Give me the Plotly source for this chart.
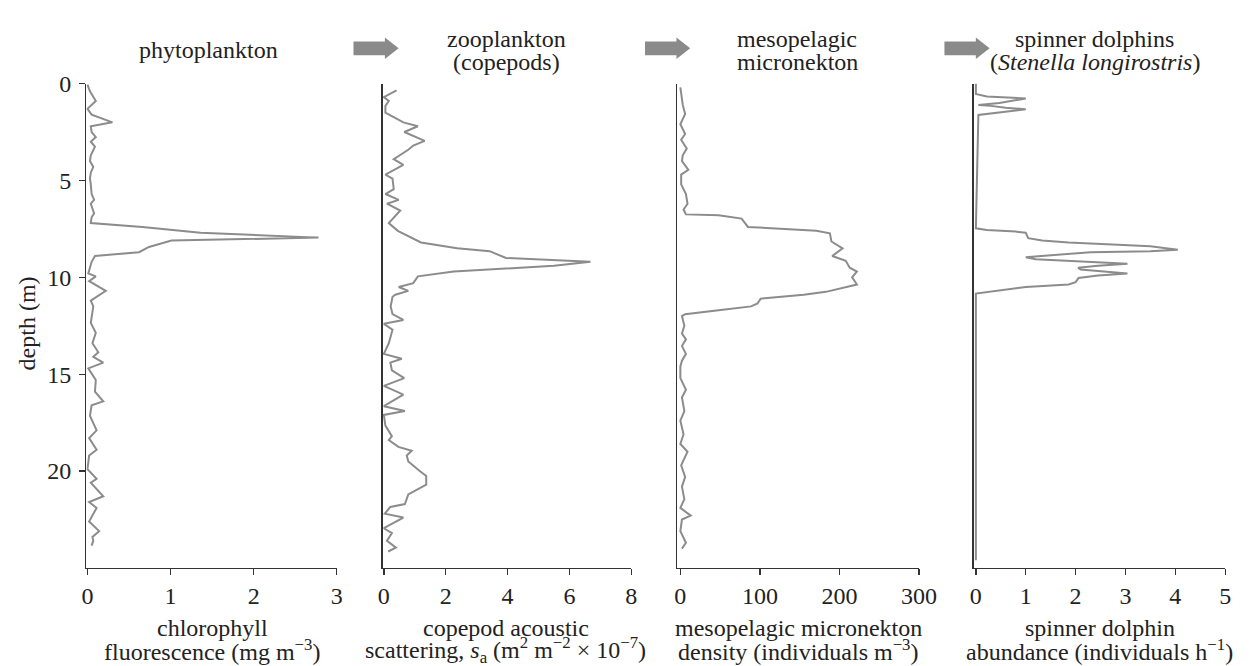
import plotly.graph_objects as go

# ---------------- data ----------------
depth_phyto = [0.05, 0.4, 0.9, 1.3, 1.6, 2.0, 2.2, 2.5, 2.76, 3.0, 3.25, 3.7, 4.0, 4.3, 4.6,
               4.9, 5.2, 5.7, 6.0, 6.2, 6.7, 6.9, 7.2, 7.4, 7.7, 7.95, 8.1, 8.43, 8.7, 8.9,
               9.2, 9.5, 9.8, 9.95, 10.2, 10.7, 11.2, 11.5, 11.85, 12.35, 12.86, 13.4, 13.87, 14.1, 14.4,
               14.7, 15.3, 15.9, 16.4, 16.6, 17.15, 17.9, 18.3, 18.9, 19.2, 19.9, 20.4, 20.6, 21.3, 21.6,
               21.9, 22.6, 23.1, 23.4, 23.6, 23.85]
chlorophyll = [0.0, 0.03, 0.1, 0.0, 0.05, 0.3, 0.04, 0.05, 0.1, 0.04, 0.09, 0.04, 0.03, 0.07, 0.04,
               0.03, 0.04, 0.05, 0.08, 0.04, 0.08, 0.05, 0.04, 0.66, 1.36, 2.78, 1.01, 0.74, 0.62, 0.09,
               0.05, 0.03, 0.01, 0.1, 0.02, 0.22, 0.04, 0.07, 0.06, 0.04, 0.1, 0.06, 0.13, 0.07, 0.19,
               0.01, 0.1, 0.09, 0.19, 0.05, 0.03, 0.11, 0.02, 0.11, 0.02, 0.0, 0.11, 0.04, 0.19, 0.02,
               0.11, 0.02, 0.14, 0.06, 0.07, 0.05]

depth_cop = [0.35, 0.5, 0.7, 0.9, 1.15, 1.5, 2.0, 2.2, 2.5, 2.96, 3.2, 3.4, 3.9, 4.2, 4.5,
             4.7, 4.9, 5.45, 5.7, 6.0, 6.2, 6.55, 7.2, 7.6, 8.2, 8.5, 8.65, 9.0, 9.2, 9.4,
             9.7, 9.95, 10.3, 10.5, 10.7, 10.9, 11.0, 11.5, 11.9, 12.2, 12.4, 12.7, 13.4, 13.95, 14.2,
             14.4, 14.8, 15.2, 15.6, 16.05, 16.65, 16.9, 17.1, 17.65, 18.2, 18.4, 18.75, 18.95, 19.2, 19.5,
             20.0, 20.25, 20.7, 21.2, 21.7, 21.85, 22.2, 22.4, 22.95, 23.2, 23.6, 23.95, 24.15]
copepods = [0.41, 0.22, 0.0, 0.16, 0.05, 0.05, 0.63, 1.1, 0.66, 1.32, 0.95, 0.8, 0.32, 0.63, 0.28,
            0.05, 0.28, 0.32, 0.05, 0.48, 0.1, 0.53, 0.16, 0.45, 1.2, 2.37, 3.42, 3.95, 6.68, 5.5,
            2.26, 1.1, 0.95, 0.48, 0.79, 0.37, 0.28, 0.22, 0.28, 0.63, 0.0, 0.28, 0.16, 0.0, 0.58,
            0.21, 0.26, 0.66, 0.0, 0.63, 0.0, 0.68, 0.0, 0.05, 0.26, 0.16, 0.47, 0.9, 0.74, 0.79,
            1.16, 1.37, 1.37, 0.79, 0.68, 0.21, 0.03, 0.63, 0.0, 0.26, 0.1, 0.39, 0.14]

depth_mic = [0.2, 0.7, 1.1, 1.57, 2.1, 2.6, 2.9, 3.35, 3.7, 4.0, 4.45, 4.7, 5.2, 5.7, 6.2,
             6.5, 6.75, 6.8, 6.97, 7.4, 7.5, 7.6, 7.73, 8.15, 8.5, 8.9, 9.15, 9.5, 9.7, 10.0,
             10.37, 10.5, 10.75, 10.9, 11.1, 11.35, 11.5, 11.7, 11.9, 12.0, 12.5, 12.9, 13.2, 13.55, 13.95,
             14.3, 14.6, 15.2, 15.8, 16.2, 16.9, 17.4, 18.1, 18.6, 19.0, 19.7, 20.3, 20.8, 21.45, 21.9,
             22.3, 22.5, 23.1, 23.7, 24.0]
micronekton = [0, 2, 3, 6, 0, 6, 1, 8, 3, 2, 10, 1, 1, 7, 9,
               4, 7, 48, 77, 85, 130, 171, 188, 190, 204, 191, 208, 213, 222, 216,
               222, 208, 183, 155, 101, 97, 89, 48, 6, 2, 5, 2, 7, 2, 7,
               2, 0, 0, 7, 2, 5, 0, 4, 0, 9, 1, 6, 2, 5, 0,
               13, 2, 0, 7, 2]

depth_dol = [0.0, 0.54, 0.66, 0.72, 0.77, 1.0, 1.1, 1.15, 1.25, 1.33, 1.5, 1.62, 7.47, 7.56, 7.64,
             7.7, 7.98, 8.1, 8.2, 8.25, 8.4, 8.57, 8.65, 8.7, 8.82, 8.96, 9.07, 9.16, 9.24, 9.3,
             9.4, 9.5, 9.6, 9.7, 9.8, 9.9, 10.03, 10.25, 10.37, 10.5, 10.84, 24.6]
dolphins = [0, 0, 0.22, 0.61, 1.0, 0.47, 0.05, 0.3, 0.6, 1.0, 0.5, 0.05, 0, 0.22, 0.8,
            1.0, 1.05, 1.33, 1.86, 2.3, 3.5, 4.05, 3.5, 2.3, 1.66, 1.0, 1.2, 2.0, 2.84, 3.04,
            2.45, 2.05, 2.1, 2.57, 3.04, 2.45, 2.06, 2.0, 1.86, 1.0, 0.0, 0]

depth_ticks = [0, 5, 10, 15, 20]
x_ticks = [[0, 1, 2, 3], [0, 2, 4, 6, 8], [0, 100, 200, 300], [0, 1, 2, 3, 4, 5]]
x_ranges = [[-0.012, 3.0], [-0.03, 8.0], [-3.7, 300], [-0.04, 5.0]]

top_titles = [["phytoplankton"], ["zooplankton", "(copepods)"],
              ["mesopelagic", "micronekton"], ["spinner dolphins", "(<i>Stenella longirostris</i>)"]]
bottom_titles = [["chlorophyll", "fluorescence (mg m<sup>−3</sup>)"],
                 ["copepod acoustic", "scattering, <i>s</i><sub>a</sub> (m<sup>2</sup> m<sup>−2</sup> × 10<sup>−7</sup>)"],
                 ["mesopelagic micronekton", "density (individuals m<sup>−3</sup>)"],
                 ["spinner dolphin", "abundance (individuals h<sup>−1</sup>)"]]

# ---------------- layout geometry (window pixels) ----------------
W, H = 1253, 666
FONT = "Times New Roman, Liberation Serif, DejaVu Serif, serif"
LINE = "#8c8c8c"
AX = "#333333"
TXT = "#222222"
TSIZE = 24
KSIZE = 24

def px(x):
    return x / W

def py(y):
    return 1 - y / H

panel_px = [(83, 338), (385, 638), (685, 931), (987, 1243)]
top_y, bot_y = 72, 566

series = [(chlorophyll, depth_phyto), (copepods, depth_cop), (micronekton, depth_mic), (dolphins, depth_dol)]

fig = go.Figure()
layout = dict(
    width=W, height=H, margin=dict(l=0, r=0, t=0, b=0),
    paper_bgcolor="white", plot_bgcolor="white", showlegend=False,
    font=dict(family=FONT, size=TSIZE, color=TXT),
)

for i, ((xv, yv), (x0, x1)) in enumerate(zip(series, panel_px)):
    n = "" if i == 0 else str(i + 1)
    fig.add_trace(go.Scatter(x=xv, y=yv, mode="lines", line=dict(color=LINE, width=2),
                             xaxis="x" + n, yaxis="y" + n, hoverinfo="skip"))
    layout["xaxis" + n] = dict(
        domain=[px(x0), px(x1)], anchor="y" + n, range=x_ranges[i],
        tickvals=x_ticks[i], ticks="outside", ticklen=6, tickwidth=1.3, tickcolor=AX,
        showline=True, linecolor=AX, linewidth=1.5, showgrid=False, zeroline=False,
        tickfont=dict(family=FONT, size=KSIZE, color=TXT), fixedrange=True,
    )
    layout["yaxis" + n] = dict(
        domain=[py(bot_y), py(top_y)], anchor="x" + n, range=[25, 0],
        showline=True, linecolor=AX, linewidth=1.5, showgrid=False, zeroline=False,
        tickvals=depth_ticks if i == 0 else [], ticks="outside" if i == 0 else "",
        ticklen=6, tickwidth=1.3, tickcolor=AX, showticklabels=(i == 0),
        ticklabelstandoff=3,
        tickfont=dict(family=FONT, size=KSIZE, color=TXT), fixedrange=True,
    )

annotations = []
top_cx = [207, 511, 807, 1110]
bot_cx = [211, 510, 808, 1115]
for i in range(4):
    lines = top_titles[i]
    ys = [38] if len(lines) == 1 else [27, 50]
    for t, yy in zip(lines, ys):
        annotations.append(dict(text=t, x=px(top_cx[i]), y=py(yy), xref="paper", yref="paper",
                                xanchor="center", yanchor="middle", showarrow=False,
                                font=dict(family=FONT, size=TSIZE, color=TXT)))
    for t, yy in zip(bottom_titles[i], [627, 650]):
        annotations.append(dict(text=t, x=px(bot_cx[i]), y=py(yy), xref="paper", yref="paper",
                                xanchor="center", yanchor="middle", showarrow=False,
                                font=dict(family=FONT, size=TSIZE, color=TXT)))
annotations.append(dict(text="depth (m)", x=px(22), y=py(317), xref="paper", yref="paper",
                        xanchor="center", yanchor="middle", showarrow=False, textangle=-90,
                        font=dict(family=FONT, size=TSIZE, color=TXT)))
layout["annotations"] = annotations

# arrows between trophic levels
shapes = []
for ax0 in [355, 652, 957]:
    cy = 36
    body_end = ax0 + 32
    tip = ax0 + 46
    pts = [(ax0, cy - 7), (body_end, cy - 7), (body_end, cy - 11), (tip, cy),
           (body_end, cy + 11), (body_end, cy + 7), (ax0, cy + 7)]
    path = "M " + " L ".join(f"{px(x):.5f},{py(y):.5f}" for x, y in pts) + " Z"
    shapes.append(dict(type="path", path=path, xref="paper", yref="paper",
                       fillcolor="#8a8a8a", line=dict(width=0)))
layout["shapes"] = shapes

fig.update_layout(**layout)
# remove the default 8px page margin so the figure fills the window exactly
fig.write_html("out.html",
               config={"displayModeBar": False, "staticPlot": True},
               post_script="document.body.style.margin='0';document.body.style.overflow='hidden';")
